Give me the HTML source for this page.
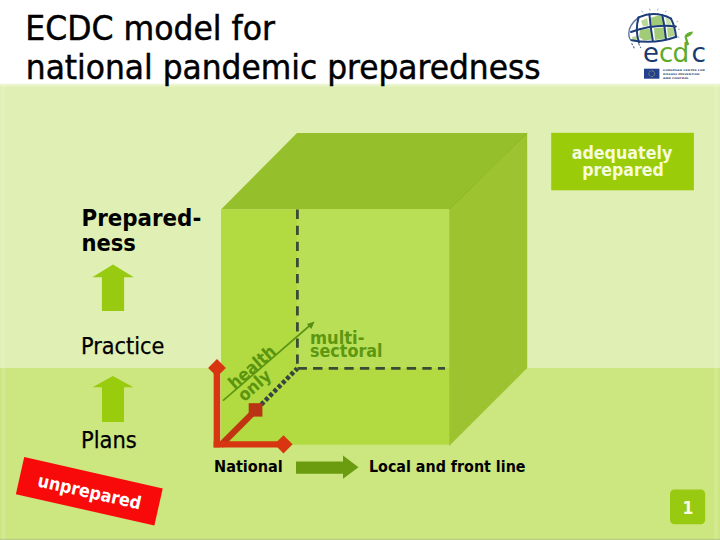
<!DOCTYPE html>
<html lang="en">
<head>
<meta charset="utf-8">
<title>ECDC model for national pandemic preparedness</title>
<style>
  html, body { margin: 0; padding: 0; background: #ffffff; }
  body { width: 720px; height: 540px; overflow: hidden; position: relative; }
  svg { display: block; position: absolute; left: 0; top: 0; }
  text { font-family: "DejaVu Sans Condensed", "DejaVu Sans", "Liberation Sans", sans-serif; font-stretch: condensed; }
  .b { font-weight: bold; }
</style>
</head>
<body>
<svg width="720" height="540" viewBox="0 0 720 540">
  <!-- backgrounds -->
  <rect x="0" y="0" width="720" height="540" fill="#ffffff"/>
  <defs><linearGradient id="hdrfade" x1="0" y1="0" x2="0" y2="1"><stop offset="0" stop-color="#ffffff"/><stop offset="1" stop-color="#e0efb3"/></linearGradient></defs>
  <rect x="0" y="82.6" width="720" height="3.8" fill="url(#hdrfade)"/>
  <rect x="0" y="86.3" width="720" height="282" fill="#e0efb3"/>
  <rect x="0" y="368" width="720" height="172" fill="#cce680"/>


  <!-- subtle edge strips -->
  <rect x="1.6" y="85.5" width="3.8" height="454.5" fill="#ffffff" opacity="0.14"/>
  <rect x="714" y="85.5" width="4.2" height="454.5" fill="#ffffff" opacity="0.12"/>
  <rect x="0" y="538.8" width="720" height="1.2" fill="#8a8f86" opacity="0.3"/>

  <!-- title -->
  <text x="25.3" y="40" font-size="33.8" fill="#000" stroke="#000" stroke-width="0.45" textLength="249.6" lengthAdjust="spacingAndGlyphs">ECDC model for</text>
  <text x="25.8" y="78.5" font-size="33.8" fill="#000" stroke="#000" stroke-width="0.45" textLength="514.8" lengthAdjust="spacingAndGlyphs">national pandemic preparedness</text>


  <!-- ECDC logo -->
  <g id="logo">
    <!-- globe continents -->
    <g fill="#a2cb78">
      <path d="M651,17.5 L659,15.5 L663.5,17 L664.5,24.5 L657,25.5 L651.5,26 Z"/>
      <path d="M641,21 L647,18 L648.5,25.5 L643,26.5 Z" opacity="0.75"/>
      <path d="M640,30 L651,28.5 L652,39.5 L644,40.5 L639,37 Z"/>
      <path d="M654,28.3 L664.5,27.5 L665.5,38.5 L655,40 Z"/>
      <path d="M667,27.5 L674,27.5 L674.5,35.5 L668,37.5 Z" opacity="0.85"/>
      <path d="M632,37 L637,36 L637.5,41 L633,41.5 Z" opacity="0.8"/>
      <path d="M665.5,17.5 L670,19.5 L671.5,25 L666.5,25 Z" opacity="0.6"/>
    </g>
    <!-- globe grid -->
    <g fill="none" stroke="#1c3d78" stroke-width="2" stroke-linecap="round">
      <path d="M638.6,17.4 Q655,10.2 671,18.6"/>
      <path d="M631,32 Q654,23.6 675.8,26.4"/>
      <path d="M631.6,40.3 Q655,44.6 676.4,36.8"/>
      <path d="M638.6,17.4 Q634.8,30 639,42.4"/>
      <path d="M649.4,14.3 Q650.6,28 652.8,40.4"/>
      <path d="M662.3,15.2 Q665,27 666,39.4"/>
      <path d="M671,18.6 Q675.2,27 676,36.8"/>
    </g>
    <g fill="none" stroke="#1c3d78" opacity="0.7">
      <path d="M638.6,17.4 Q626.4,27 629.4,37.6 Q630.2,40 631.6,40.6" stroke-width="1.4"/>
      <path d="M631.6,43.2 L634.4,48.4" stroke-width="1.2" stroke-dasharray="2.2 1.4"/>
      <path d="M638.6,43.6 L640.8,48" stroke-width="1.2" stroke-dasharray="2.2 1.4"/>
      <path d="M643,12.6 L641.6,10.6 M650,10.6 L649.6,8.6 M657.5,10.4 L658,8.6 M665,12.4 L666.2,10.6 M676.4,22 L678.2,21 M678,29.4 L679.8,29.2 M677.6,36.8 L679.4,37.6" stroke-width="1" opacity="0.6"/>
    </g>
    <!-- ecdc wordmark -->
    <g font-size="27.2" style="font-family:'Liberation Sans',sans-serif">
      <text transform="translate(642.9,62) scale(1.06,1)" fill="#1b3a6f">e</text>
      <text transform="translate(658.9,62) scale(1.06,1)" fill="#5cab2b">c</text>
      <text transform="translate(672.5,62) scale(1.08,1)" fill="#5cab2b">d</text>
      <text transform="translate(691.4,62) scale(1.08,1)" fill="#1b3a6f">c</text>
    </g>
    <path d="M688.2,45 Q686.4,40.5 685.8,37.2" fill="none" stroke="#5cab2b" stroke-width="2.2"/>
    <path d="M684.2,37.4 Q685.2,32.2 693.2,31.6 Q691.4,37.6 684.2,37.4 Z" fill="#62b02d"/>
    <!-- EU flag -->
    <rect x="644" y="68.7" width="15.4" height="10" fill="#24408e"/>
    <circle cx="651.7" cy="73.7" r="2.9" fill="none" stroke="#d9cf5a" stroke-width="0.9" stroke-dasharray="0.8 0.72" opacity="0.8"/>
    <!-- caption -->
    <g fill="#34456b" style="font-family:'Liberation Sans',sans-serif" font-size="2.5" font-weight="bold">
      <text x="663.1" y="70.7" textLength="41.9" lengthAdjust="spacingAndGlyphs">EUROPEAN CENTRE FOR</text>
      <text x="663.1" y="74.5" textLength="36.3" lengthAdjust="spacingAndGlyphs">DISEASE PREVENTION</text>
      <text x="663.1" y="78.8" textLength="25.8" lengthAdjust="spacingAndGlyphs">AND CONTROL</text>
    </g>
  </g>

  <!-- cube -->
  <g id="cube">
    <polygon points="221,209.4 297,132.9 527.2,132.9 449.3,209.4" fill="#95c02b"/>
    <polygon points="449.1,209.4 527.2,132.9 527.2,368.1 449.1,446" fill="#9ec331"/>
    <rect x="513.6" y="146.5" width="2.6" height="232" fill="#a6c24a" opacity="0.2"/>
    <rect x="221" y="209.4" width="228.1" height="235.3" fill="#b1db41"/>
    <rect x="297" y="209.4" width="152.1" height="158.6" fill="#b9df56"/>
    <line x1="449.3" y1="209.4" x2="527.2" y2="132.9" stroke="#8bb526" stroke-width="1"/>
    <line x1="297.4" y1="209.6" x2="297.4" y2="368" stroke="#3c4b34" stroke-width="2.8" stroke-dasharray="9.3 6.8"/>
    <line x1="297.5" y1="368.3" x2="445" y2="368.3" stroke="#3c4b34" stroke-width="2.8" stroke-dasharray="9.4 6.2"/>
  </g>

  <!-- adequately prepared -->
  <rect x="551.2" y="132.8" width="142.7" height="57.5" fill="#9acc0a"/>
  <text class="b" x="622" y="158.75" font-size="17.4" fill="#f6fbdc" text-anchor="middle" textLength="100.7" lengthAdjust="spacingAndGlyphs">adequately</text>
  <text class="b" x="623" y="175.5" font-size="17.4" fill="#f6fbdc" text-anchor="middle" textLength="81.5" lengthAdjust="spacingAndGlyphs">prepared</text>

  <!-- left column -->
  <text class="b" x="81.5" y="225.5" font-size="23" fill="#000" textLength="119.8" lengthAdjust="spacingAndGlyphs">Prepared-</text>
  <text class="b" x="81.5" y="251.25" font-size="23" fill="#000" textLength="54.4" lengthAdjust="spacingAndGlyphs">ness</text>
  <polygon points="113,264.5 133.8,277.3 124.1,277.3 124.1,310.9 101.9,310.9 101.9,277.3 92.3,277.3" fill="#98ca12"/>
  <text x="81" y="354.25" font-size="22.3" fill="#000" stroke="#000" stroke-width="0.25" textLength="83.4" lengthAdjust="spacingAndGlyphs">Practice</text>
  <polygon points="112.8,376 133.4,387.3 124,387.3 124,422 102,422 102,387.3 92.6,387.3" fill="#98cc0c"/>
  <text x="81" y="448" font-size="22.3" fill="#000" stroke="#000" stroke-width="0.25" textLength="55.8" lengthAdjust="spacingAndGlyphs">Plans</text>

  <!-- axes -->
  <g id="axes">
    <line x1="223" y1="400.7" x2="311" y2="324.5" stroke="#5c9612" stroke-width="1.7"/>
    <polygon points="314.6,321.4 306.9,323.9 311.3,328.9" fill="#588f14"/>
    <text class="b" font-size="17.4" fill="#5b9510" transform="translate(234.8,390) rotate(-41)">health</text>
    <text class="b" font-size="17.4" fill="#5b9510" transform="translate(244.2,402.2) rotate(-41)">only</text>
    <text class="b" x="310" y="344" font-size="17.4" fill="#5d9712" textLength="54.5" lengthAdjust="spacingAndGlyphs">multi-</text>
    <text class="b" x="310" y="357.2" font-size="17.4" fill="#5d9712" textLength="72.6" lengthAdjust="spacingAndGlyphs">sectoral</text>

    <line x1="261.2" y1="404.6" x2="297.3" y2="368.5" stroke="#37443f" stroke-width="4.6" stroke-dasharray="3.8 2.2"/>
        <line x1="220.4" y1="445.4" x2="255.9" y2="409.9" stroke="#c03411" stroke-width="6.4"/>
    <rect x="248.7" y="403.2" width="13.7" height="13.4" fill="#b83414"/>
    <line x1="216.9" y1="368" x2="216.9" y2="447.4" stroke="#d73610" stroke-width="6.5"/>
    <line x1="213.65" y1="444.3" x2="284" y2="444.3" stroke="#d73610" stroke-width="6.2"/>
    <polygon points="217,359.1 225.9,367.9 217,376.7 208.1,367.9" fill="#d73610"/>
    <polygon points="283.5,435.3 292.6,444.3 283.5,453.4 274.4,444.3" fill="#d73610"/>
  </g>

  <!-- bottom row -->
  <text class="b" x="214" y="472.2" font-size="15.8" fill="#000" textLength="68.8" lengthAdjust="spacingAndGlyphs">National</text>
  <polygon points="296,461.5 343,461.5 343,455.6 358.5,467.3 343,478.8 343,473.8 296,473.8" fill="#6b9c10"/>
  <text class="b" x="369" y="472.2" font-size="15.8" fill="#000" textLength="156.5" lengthAdjust="spacingAndGlyphs">Local and front line</text>

  <!-- unprepared -->
  <g transform="translate(89.3,491.3) rotate(12.75)">
    <rect x="-71" y="-19" width="142" height="38" fill="#f80a0a"/>
    <text class="b" x="0.4" y="6.6" font-size="17.8" fill="#fff" text-anchor="middle">unprepared</text>
  </g>

  <!-- page number -->
  <rect x="670" y="489.5" width="35.2" height="34.7" rx="4.5" ry="4.5" fill="#98ca12"/>
  <text class="b" x="688" y="514.2" font-size="17.4" fill="#fbffe6" text-anchor="middle">1</text>
</svg>
</body>
</html>
